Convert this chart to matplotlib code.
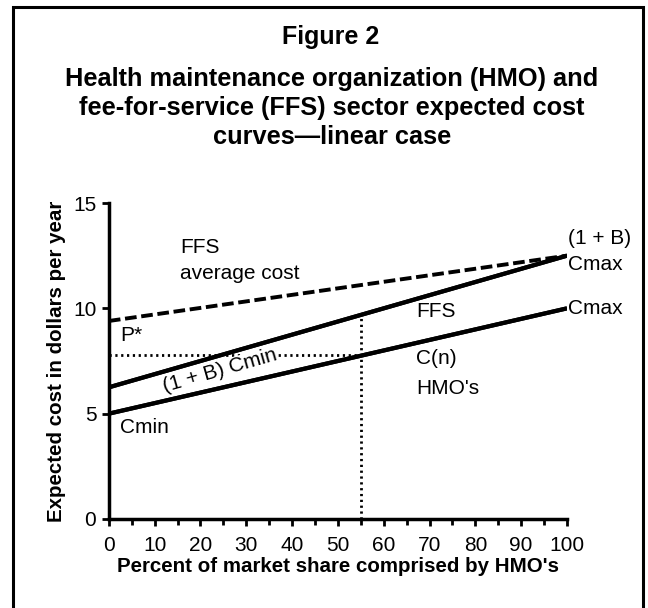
import matplotlib
matplotlib.use("Agg")
import matplotlib.pyplot as plt
from matplotlib.patches import Rectangle

# values
share = [0, 100]                 # percent of market share comprised by HMO's
hmo_cost = [5.0, 10.0]           # C(n), HMO's : Cmin -> Cmax
ffs_cost = [6.25, 12.5]          # FFS : (1 + B) Cmin -> (1 + B) Cmax
ffs_avg = [9.4, 12.5]            # FFS average cost
n_star = 55                      # equilibrium HMO share
p_star = 7.8                     # P*
ffs_at_nstar = 9.7

xticks = list(range(0, 101, 10))
yticks = [0, 5, 10, 15]

plt.rcParams['font.family'] = ['Liberation Sans', 'DejaVu Sans']

fig = plt.figure(figsize=(6.48, 6.08), dpi=100)
ax = fig.add_axes([0.168, 0.1464, 0.707, 0.5197])

# frame round the whole figure (bottom edge falls off the page)
fig.patches.append(Rectangle((13/648, -0.05), 630/648, 1.05 - 7/608,
                             transform=fig.transFigure, fill=False,
                             lw=2.2, ec='black'))

fig.text(0.51, 1 - 37/608, "Figure 2", ha='center', va='center',
         fontsize=18, fontweight='bold')
fig.text(0.512, 1 - 108/608,
         "Health maintenance organization (HMO) and\n"
         "fee-for-service (FFS) sector expected cost\n"
         "curves\u2014linear case",
         ha='center', va='center', fontsize=18.3, fontweight='bold',
         linespacing=1.24)

ax.plot(share, ffs_avg, color='black', lw=2.8, ls=(0, (3, 1.2)))
ax.plot(share, ffs_cost, color='black', lw=3.0, solid_capstyle='butt')
ax.plot(share, hmo_cost, color='black', lw=3.0, solid_capstyle='butt')
ax.plot([0, n_star], [p_star, p_star], color='black', lw=2.0, ls=(0, (0.8, 1.3)))
ax.plot([n_star, n_star], [0, ffs_at_nstar], color='black', lw=2.0, ls=(0, (0.8, 1.3)))

ax.set_xlim(0, 100)
ax.set_ylim(0, 15)
ax.set_xticks(xticks)
ax.set_xticks(range(5, 100, 10), minor=True)
ax.set_yticks(yticks)
for s in ['top', 'right']:
    ax.spines[s].set_visible(False)
for s in ['left', 'bottom']:
    ax.spines[s].set_linewidth(2.5)
ax.tick_params(axis='both', which='major', direction='out', length=5, width=2,
               labelsize=15, pad=4)
ax.tick_params(axis='x', which='major', pad=7)
ax.tick_params(axis='x', which='minor', direction='out', length=4, width=2)
ax.set_xlabel("Percent of market share comprised by HMO's", fontsize=14.8,
              fontweight='bold', labelpad=2)
ax.set_ylabel("Expected cost in dollars per year", fontsize=14.8,
              fontweight='bold', labelpad=5)

fs = 15
ax.text(15.5, 12.9, "FFS", fontsize=fs, va='center')
ax.text(15.5, 11.65, "average cost", fontsize=fs, va='center')
ax.text(100.3, 13.3, "(1 + B)", fontsize=fs, va='center')
ax.text(100.3, 12.1, "Cmax", fontsize=fs, va='center')
ax.text(100.3, 10.0, "Cmax", fontsize=fs, va='center')
ax.text(67, 9.85, "FFS", fontsize=fs, va='center')
ax.text(67, 7.6, "C(n)", fontsize=fs, va='center')
ax.text(67, 6.2, "HMO's", fontsize=fs, va='center')
ax.text(2.5, 8.7, "P*", fontsize=fs, va='center')
ax.text(2.5, 4.35, "Cmin", fontsize=fs, va='center')
ax.text(24.3, 7.05, "(1 + B) Cmin", fontsize=fs, ha='center', va='center',
        rotation=16, rotation_mode='anchor',
        bbox=dict(facecolor='white', edgecolor='none', pad=0.0))
# redraw the two solid lines over the label box
ax.plot(share, ffs_cost, color='black', lw=3.0, solid_capstyle='butt', zorder=5)
ax.plot(share, hmo_cost, color='black', lw=3.0, solid_capstyle='butt', zorder=5)

fig.savefig("out.png", dpi=100)
